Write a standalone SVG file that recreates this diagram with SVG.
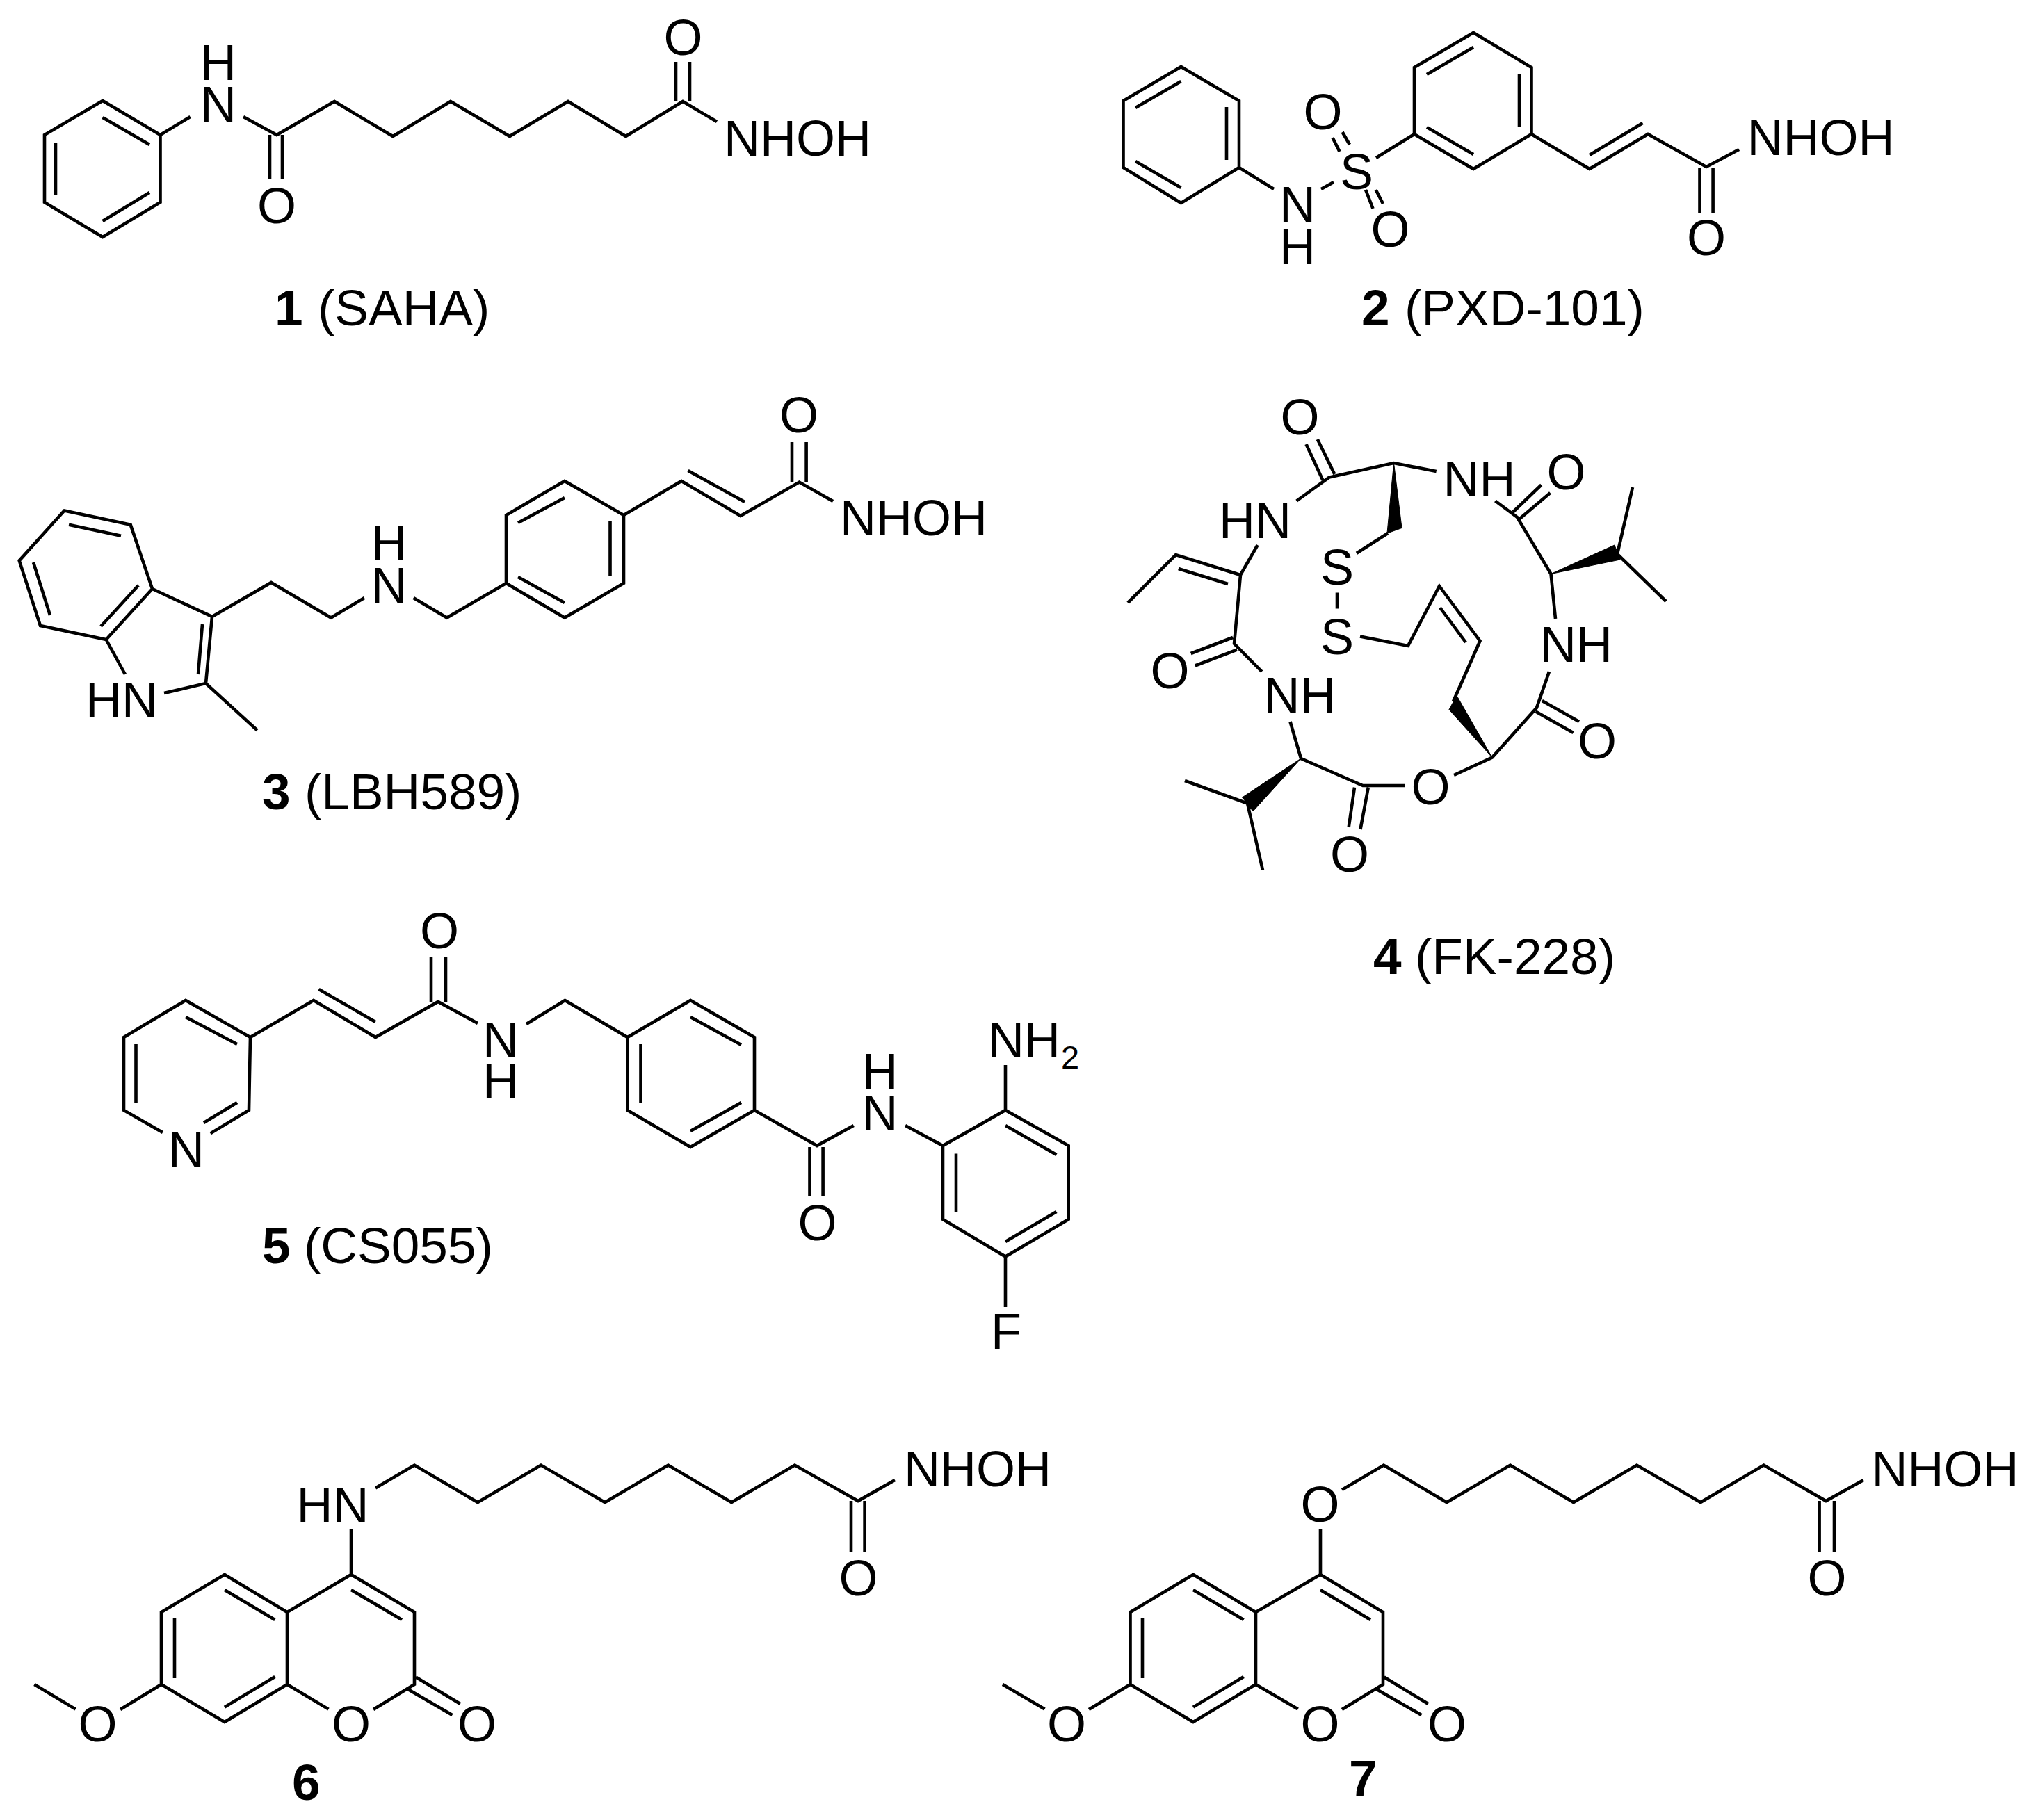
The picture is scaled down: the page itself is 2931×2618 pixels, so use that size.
<svg xmlns="http://www.w3.org/2000/svg" width="2931" height="2618" viewBox="0 0 2931 2618">
<style>
.b{fill:none;stroke:#000;stroke-width:4.6;stroke-linejoin:miter;stroke-linecap:butt}
.w{fill:#000;stroke:#000;stroke-width:1;stroke-linejoin:miter}
text{font-family:"Liberation Sans",Arial,sans-serif;font-size:72px;fill:#000}
.m{text-anchor:middle}
.n{font-weight:bold}
.s{font-size:47px}
.c{font-size:73px}
</style>
<rect width="2931" height="2618" fill="#fff"/>
<g id="compound-1">
<path class="b" d="M147.600 145L64 194V291L147.600 341L230.500 291V194ZM147.600 169L215 208M80 205V280M147.600 318L215 277M230.500 194L273.600 168M350 168L398 194L481 146L565 196L648 146L733 196L817 146L900 196L982 146L1031 175M388 194V258M406 194V258M972 146V89M992 146V89"/>
<text class="m" x="314" y="115">H</text><text class="m" x="314" y="175">N</text>
<text class="m" x="398" y="321">O</text><text class="m" x="982.500" y="79">O</text>
<text x="1041" y="224">NHOH</text>
<text class="c" y="468"><tspan class="n" x="395">1</tspan><tspan x="457">(SAHA)</tspan></text>
</g>
<g id="compound-2">
<path class="b" d="M1698.500 96L1615.500 145V241L1698.500 292L1782 241V145ZM1633 155L1698.500 117M1764 154V230M1633 232L1698.500 270M1782 241L1832 272M1900 272L1918 262M1979 227L2034 193M1916.500 198L1926.500 218M1930.600 190L1941 208M1964 273L1974.500 300M1978.600 273L1989 293M2119 47L2034 97V193L2119 243L2202.500 193V97ZM2052 107L2119 68M2185 106V183M2052 183L2119 222M2202.500 193L2286 243L2370 193L2454 240L2501 215M2286 223L2362.500 177M2444.500 242V306M2463.600 242V306"/>
<text class="m" x="1866" y="319">N</text><text class="m" x="1866" y="380">H</text>
<text class="m" x="1951" y="272">S</text><text class="m" x="1902.500" y="186">O</text><text class="m" x="1999.500" y="355">O</text>
<text class="m" x="2454" y="367">O</text><text x="2512.500" y="223">NHOH</text>
<text class="c" y="468"><tspan class="n" x="1958">2</tspan><tspan x="2020">(PXD-101)</tspan></text>
</g>
<g id="compound-3">
<path class="b" d="M92.500 734.500L187.700 754.700L219 847L152.600 920L58 900L27.700 806.400ZM99 754.700L174 770.700M48 809L72 885M199 842L145 901M219 847L305 887L296 983L236 997M285 970L291 898M152.600 920L180 970M296 983L370 1050.500M305 887L390 838L476 888.500L524 860M594.600 860L642.700 888.500L728 839V741L812 692L897 741V839L812 888.500L728 839M745 752L812 716M877.500 750V828M745 830L812 867M897 741L980 692L1065 742L1149.500 693.600L1198 721M989.500 677L1071 722M1139 693V636M1159.600 693V636"/>
<text class="m" x="175" y="1032">HN</text>
<text class="m" x="559.500" y="806">H</text><text class="m" x="559.500" y="867">N</text>
<text class="m" x="1149" y="622">O</text><text x="1208" y="770">NHOH</text>
<text class="c" y="1164"><tspan class="n" x="377">3</tspan><tspan x="438">(LBH589)</tspan></text>
</g>
<g id="compound-4">
<path class="b" d="M1878.500 639L1902.400 690.600M1894.800 632L1919.300 682M1864.700 720.500L1911.600 686.600L2004.500 666L2065.700 678M1808.600 784L1784 827L1691 798L1622 867M1694.800 818L1766 840M1784 827L1775 926L1814.700 966M1712.700 940L1773 917M1718.800 957.500L1779 934.600M1855.500 1038L1871 1091L1960 1130L2021 1130M1794 1155.600L1704 1123M1794 1155.600L1816 1251.400M1948 1132.600L1939.700 1190M1967.800 1132.600L1956.500 1193M2091 1115L2146 1089.600L2210 1018L2228 966M2090 1009L2128.500 922L2070 843L2025 929L1956 915.600M2071 874L2108 924M1923 852.500V875.500M1951 795.700L1996 767M2217.800 1008L2271 1038M2208.600 1023.600L2262.600 1054M2237 890L2230.500 825.500L2182 744L2150.400 720.500M2176 736.500L2216.700 697.500M2184.600 747L2229.500 709M2348 701L2326 797L2396 865"/>
<path class="w" d="M2004.500 666L1995 767L2016 759.500ZM1871 1091L1786.600 1147L1802 1167ZM2146 1089.600L2095 1000.600L2084 1020.700ZM2230.500 825.500L2322 784L2330 805Z"/>
<text class="m" x="1869.500" y="625">O</text><text class="m" x="2127.500" y="713.500">NH</text><text class="m" x="1805" y="774">HN</text>
<text class="m" x="1682.500" y="990">O</text><text class="m" x="1869.500" y="1025">NH</text>
<text class="m" x="1941" y="1254">O</text><text class="m" x="2057.500" y="1157">O</text>
<text class="m" x="1923" y="941">S</text><text class="m" x="1923" y="841">S</text>
<text class="m" x="2297" y="1091">O</text><text class="m" x="2267" y="952">NH</text><text class="m" x="2252.500" y="704">O</text>
<text class="c" y="1401"><tspan class="n" x="1975">4</tspan><tspan x="2035">(FK-228)</tspan></text>
</g>
<g id="compound-5">
<path class="b" d="M234 1629L178 1597V1492L267 1439L360 1492L358 1597L302.600 1630.400M341 1586L293 1615M267 1463L341 1502M195.500 1502V1587M360 1492L451 1439L540 1492L630 1441L687 1472M458.500 1423L540 1470M620 1441V1376M641 1441V1376M757 1473L812.500 1439L902.400 1492L993 1439L1085 1492V1597L993 1650L902.400 1597V1492M993 1463L1066 1503M921.500 1502V1587M1066 1586L993 1627M1085 1597L1175 1648L1227.700 1619M1164.500 1650V1720.600M1183.600 1650V1720.600M1302 1619L1356 1648L1446 1597L1536.700 1648V1754L1446 1807.600L1356 1754V1648M1446 1619L1519.400 1661M1375 1659.400V1744M1519.400 1743L1446 1786M1446 1597V1532M1446 1807.600V1880"/>
<text class="m" x="268" y="1679">N</text><text class="m" x="632" y="1364">O</text>
<text class="m" x="720" y="1521">N</text><text class="m" x="720" y="1580">H</text>
<text class="m" x="1175.500" y="1783.500">O</text>
<text class="m" x="1265.500" y="1566">H</text><text class="m" x="1265.500" y="1626">N</text>
<text x="1421" y="1521">NH</text><text class="s" x="1526" y="1537">2</text>
<text class="m" x="1447" y="1940">F</text>
<text class="c" y="1817"><tspan class="n" x="377">5</tspan><tspan x="437">(CS055)</tspan></text>
</g>
<g id="compound-6">
<path class="b" d="M323 2265L232 2319V2423L323 2477L413 2423V2319ZM323 2287L395.400 2330M251 2328V2414M323 2455.600L395.400 2412M413 2319L505 2265L596 2319V2423L537 2459M413 2423L472.500 2458.600M505 2287L578 2330M598 2412.500L662 2451M585 2429L650.500 2467M232 2423L173 2459M108.700 2458.600L49.400 2423M505 2265V2200M540 2140.600L596 2107.600L687 2161L778 2107.600L870 2161L961 2107.600L1052 2161L1143 2107.600L1234 2159L1287 2129M1224 2159V2233M1243.600 2159V2233"/>
<text class="m" x="505" y="2505">O</text><text class="m" x="686" y="2505">O</text><text class="m" x="140.500" y="2505">O</text>
<text class="m" x="478.500" y="2190">HN</text><text class="m" x="1234.500" y="2295">O</text>
<text x="1300" y="2138">NHOH</text>
<text class="n c" x="420" y="2589">6</text>
</g>
<g id="compound-7">
<path class="b" d="M1716 2265L1625.500 2319V2423L1716 2477L1806 2423V2319ZM1716 2287L1788.600 2330M1643 2328V2414M1716 2455.600L1788.600 2412M1806 2319L1899 2265L1989 2319V2423L1930 2459M1806 2423L1866.700 2458.600M1899 2287L1971 2330M1990.700 2412.500L2054 2451M1978 2429L2044.400 2467M1625.500 2423L1566 2459M1502.500 2458.600L1442 2423M1899 2265V2200M1930 2143L1990 2107.600L2080.600 2161L2172 2107.600L2263 2161L2354 2107.600L2445.700 2161L2536.600 2107.600L2626 2159L2680 2129M2616.600 2159V2233M2638 2159V2233"/>
<text class="m" x="1898.500" y="2505">O</text><text class="m" x="2081" y="2505">O</text><text class="m" x="1534" y="2505">O</text>
<text class="m" x="1898.500" y="2189">O</text><text class="m" x="2627.500" y="2295">O</text>
<text x="2691.500" y="2138">NHOH</text>
<text class="n c" x="1940" y="2583">7</text>
</g>
</svg>
